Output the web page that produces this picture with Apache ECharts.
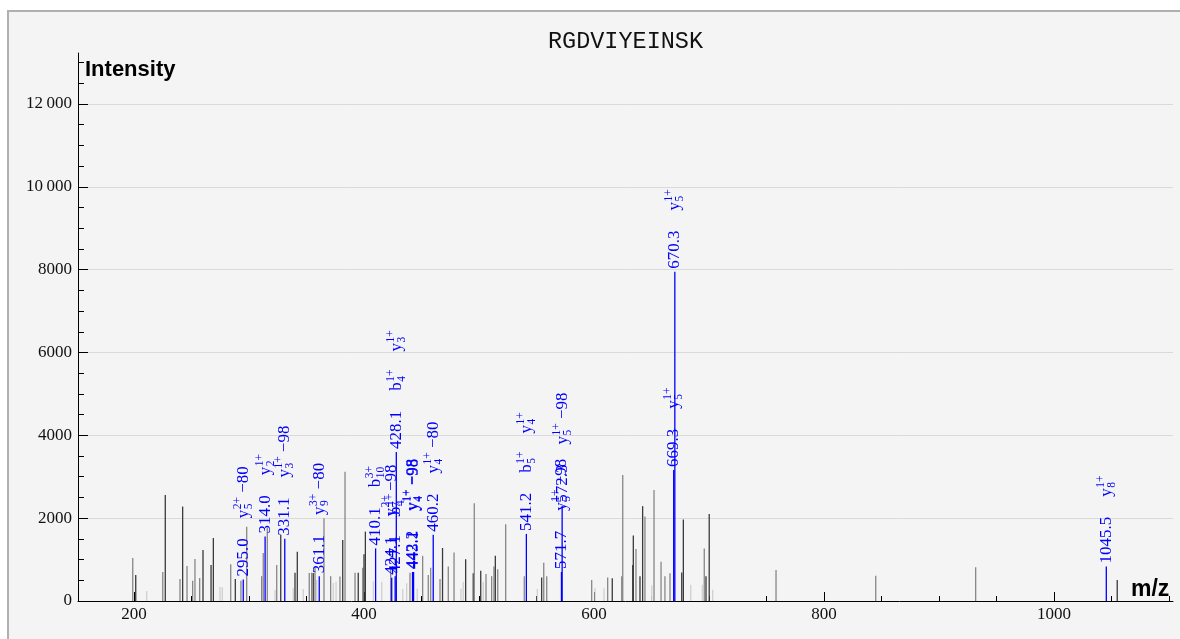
<!DOCTYPE html>
<html><head><meta charset="utf-8">
<script src="https://cdn.jsdelivr.net/npm/echarts@6/dist/echarts.min.js"></script>
<style>
html,body{margin:0;padding:0;background:#fff;width:1180px;height:639px;overflow:hidden}
#frame{position:absolute;left:7px;top:10px;width:1400px;height:900px;border:2.5px solid #b0b0b0;background:#f4f4f4}
#chart{position:absolute;left:0;top:0;width:1180px;height:639px}
</style></head><body>
<div id="frame"></div><div id="chart"></div>
<script>
// ---- data ----
const peptide = 'RGDVIYEINSK';
const xAxisName = 'm/z';
const yAxisName = 'Intensity';
const xTickValues = [200, 400, 600, 800, 1000];
const xMinorTickValues = [250, 300, 350, 450, 500, 550, 650, 700, 750, 850, 900, 950, 1050, 1100];
const yTickValues = [0, 2000, 4000, 6000, 8000, 10000, 12000];
const yMinorTickValues = [500, 1000, 1500, 2500, 3000, 3500, 4500, 5000, 5500, 6500, 7000, 7500, 8500, 9000, 9500, 10500, 11000, 11500, 12500, 13000];

const grayMz = [198.9,201.5,211.0,225.0,227.2,240.0,242.3,246.1,251.0,253.0,257.1,260.0,267.0,269.0,274.8,276.8,284.1,288.1,293.0,298.0,311.0,312.4,315.9,322.6,324.1,327.6,338.5,340.0,342.0,347.2,352.4,354.5,355.9,357.4,358.9,365.2,371.0,373.3,375.7,379.1,381.5,383.5,392.2,395.0,398.9,400.0,401.2,408.1,415.4,423.2,433.7,437.1,440.0,446.3,451.0,455.9,458.0,466.1,468.3,473.3,478.3,484.3,486.3,488.4,495.0,495.9,501.5,503.7,506.1,511.0,513.0,514.2,516.3,523.2,539.4,550.7,554.5,556.3,558.9,598.0,600.9,608.7,611.9,615.9,624.1,625.0,633.7,634.2,636.5,640.0,642.3,644.3,650.2,652.2,658.3,661.7,666.1,676.3,677.7,684.1,694.2,695.9,697.4,700.2,703.2,758.3,845.0,931.9,1055.0];
const grayIntensity = [1040,630,240,700,2560,530,2280,845,490,1015,555,1230,870,1520,340,330,890,530,490,1795,600,1160,1760,265,870,1600,310,685,1190,290,675,685,675,800,510,2000,600,435,465,590,1470,3120,685,685,800,1130,1675,470,460,770,290,430,685,300,1090,630,800,530,1280,830,1170,300,465,1005,670,2360,730,460,650,600,830,1095,765,1850,600,290,565,925,600,510,310,310,565,550,600,3040,870,1580,1255,600,2290,2040,380,2680,950,600,670,690,1970,390,390,1270,600,2100,270,750,610,815,505];
const grayLevel = ['m','d','l','m','d','m','d','m','m','m','m','d','d','d','l','l','m','d','m','m','m','m','m','l','m','d','l','d','d','l','m','m','d','m','l','m','m','l','l','m','d','m','m','d','m','d','d','l','l','m','l','l','m','l','m','m','m','m','d','m','m','l','l','d','d','m','d','l','m','m','m','d','m','m','m','l','d','m','m','m','l','l','m','d','m','m','d','d','m','d','d','m','l','m','m','m','m','d','d','l','l','m','d','d','l','m','m','m','d'];

const annMz = [295.0,314.0,331.1,361.1,410.1,424.1,427.1,428.1,442.2,443.1,460.2,541.2,571.7,572.3,669.3,670.3,1045.5];
const annIntensity = [520,1560,1500,600,1270,560,600,3600,700,700,1600,1620,700,2300,3160,7950,830];
const annIons = ['y|5|2+|−80','y|2|1+','y|3|1+|−98','y|9|3+|−80','b|10|3+','y|7|2+|−98','b|4|1+','b|4|1+;y|3|1+','y|4|1+|−98','y|4|1+|−98','y|4|1+|−80','b|5|1+;y|4|1+','y|5|1+|−98','y|5|1+|−98','y|5|1+','y|5|1+','y|8|1+'];

// ---- styles ----
const X_MIN = 151.3, X_MAX = 1103.5, Y_MIN = 0, Y_MAX = 13230;
const BLUE = '#0000ff';
const TONE = { d: '#3a3a3a', m: '#878787', l: '#d0d0d0' };
const SERIF = "'Liberation Serif', 'Times New Roman', serif";
const NUM_SIZE = 17, SMALL_SIZE = 11.5;

const cvs = document.createElement('canvas').getContext('2d');
function measure(t, size) { cvs.font = size + 'px ' + SERIF; return cvs.measureText(t).width; }
function txt(t, x, y, size) {
  return { type: 'text', x: x, y: y, style: { text: t, fill: BLUE, fontSize: size, fontFamily: SERIF,
    align: 'left', verticalAlign: 'middle', textAlign: 'left', textVerticalAlign: 'middle' } };
}

function renderGray(params, api) {
  const mz = api.value(0), v = api.value(1);
  const p0 = api.coord([mz, 0]), p1 = api.coord([mz, v]);
  return { type: 'line', shape: { x1: p0[0], y1: p0[1], x2: p1[0], y2: p1[1] },
    style: { stroke: TONE[grayLevel[params.dataIndex]], lineWidth: 1.3 } };
}

function renderAnn(params, api) {
  const i = params.dataIndex;
  const mz = api.value(0), v = api.value(1);
  const p0 = api.coord([mz, 0]), p1 = api.coord([mz, v]);
  const texts = [];
  let x = 3;
  const lab = annMz[i].toFixed(1);
  texts.push(txt(lab, x, 0, NUM_SIZE));
  x += measure(lab, NUM_SIZE) + 20;
  annIons[i].split(';').forEach(function (ion) {
    const parts = ion.split('|');
    texts.push(txt(parts[0], x, 0, NUM_SIZE));
    x += measure(parts[0], NUM_SIZE) + 0.5;
    texts.push(txt(parts[2], x, -5.5, SMALL_SIZE));
    texts.push(txt(parts[1], x, 5.5, SMALL_SIZE));
    x += Math.max(measure(parts[2], SMALL_SIZE), measure(parts[1], SMALL_SIZE));
    if (parts[3]) {
      x += measure(' ', NUM_SIZE);
      texts.push(txt(parts[3], x, 0, NUM_SIZE));
      x += measure(parts[3], NUM_SIZE);
    }
    x += 18;
  });
  return { type: 'group', children: [
    { type: 'line', shape: { x1: p0[0], y1: p0[1], x2: p1[0], y2: p1[1] }, style: { stroke: BLUE, lineWidth: 1.3 } },
    { type: 'group', x: p1[0], y: p1[1], rotation: Math.PI / 2, children: texts }
  ] };
}

const chart = echarts.init(document.getElementById('chart'), null, { renderer: 'canvas' });
const axisLabelFont = { fontFamily: SERIF, fontSize: 17, color: '#111' };
chart.setOption({
  animation: false,
  backgroundColor: 'transparent',
  grid: { left: 78, right: 7, top: 53, bottom: 38, containLabel: false, outerBoundsMode: 'none' },
  xAxis: [
    { type: 'value', min: X_MIN, max: X_MAX, position: 'bottom',
      axisLine: { show: true, onZero: false, lineStyle: { color: '#000', width: 1 } },
      axisTick: { show: true, inside: true, length: 9, customValues: xTickValues, lineStyle: { color: '#000', width: 1 } },
      axisLabel: Object.assign({ show: true, customValues: xTickValues, margin: 5,
        formatter: function (v) { return String(v); } }, axisLabelFont),
      splitLine: { show: false }, minorTick: { show: false } },
    { type: 'value', min: X_MIN, max: X_MAX, position: 'bottom',
      axisLine: { show: false },
      axisTick: { show: true, inside: true, length: 5, customValues: xMinorTickValues, lineStyle: { color: '#000', width: 1 } },
      axisLabel: { show: false }, splitLine: { show: false } }
  ],
  yAxis: [
    { type: 'value', min: Y_MIN, max: Y_MAX, position: 'left',
      axisLine: { show: true, onZero: false, lineStyle: { color: '#000', width: 1 } },
      axisTick: { show: true, inside: true, length: 10, customValues: yTickValues, lineStyle: { color: '#000', width: 1 } },
      axisLabel: Object.assign({ show: true, customValues: yTickValues, margin: 6,
        formatter: function (v) { return v >= 10000 ? String(v).replace(/(\d)(?=(\d{3})$)/, '$1\u2009') : String(v); } }, axisLabelFont),
      splitLine: { show: true, lineStyle: { color: '#dadada', width: 1 } } },
    { type: 'value', min: Y_MIN, max: Y_MAX, position: 'left',
      axisLine: { show: false },
      axisTick: { show: true, inside: true, length: 6, customValues: yMinorTickValues, lineStyle: { color: '#000', width: 1 } },
      axisLabel: { show: false }, splitLine: { show: false } }
  ],
  graphic: [
    { type: 'text', x: 625.5, y: 42, style: { text: peptide, fontFamily: "'Liberation Mono', monospace", fontSize: 23.5, fill: '#111', align: 'center', verticalAlign: 'middle', textAlign: 'center', textVerticalAlign: 'middle' } },
    { type: 'text', x: 85, y: 69.5, style: { text: yAxisName, fontFamily: "'Liberation Sans', Arial, sans-serif", fontWeight: 'bold', fontSize: 22, fill: '#000', align: 'left', verticalAlign: 'middle', textAlign: 'left', textVerticalAlign: 'middle' } },
    { type: 'text', x: 1131, y: 590, style: { text: xAxisName, fontFamily: "'Liberation Sans', Arial, sans-serif", fontWeight: 'bold', fontSize: 23, fill: '#000', align: 'left', verticalAlign: 'middle', textAlign: 'left', textVerticalAlign: 'middle' } }
  ],
  series: [
    { type: 'custom', name: 'unmatched', xAxisIndex: 0, yAxisIndex: 0, renderItem: renderGray, z: 2,
      data: grayMz.map(function (m, i) { return [m, grayIntensity[i]]; }) },
    { type: 'custom', name: 'matched', xAxisIndex: 0, yAxisIndex: 0, renderItem: renderAnn, z: 3,
      data: annMz.map(function (m, i) { return [m, annIntensity[i]]; }) }
  ]
});
</script>
</body></html>
